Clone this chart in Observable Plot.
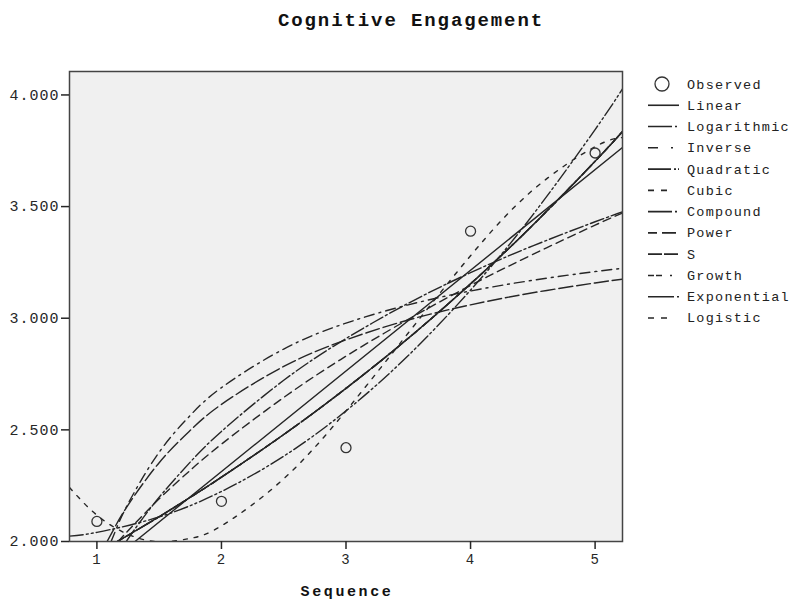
<!DOCTYPE html>
<html>
<head>
<meta charset="utf-8">
<script src="https://cdn.jsdelivr.net/npm/d3@7"></script>
<script src="https://cdn.jsdelivr.net/npm/@observablehq/plot@0.6"></script>
<style>
  html, body { margin: 0; padding: 0; background: #ffffff; }
  #chart { position: relative; width: 792px; height: 602px; }
</style>
</head>
<body>
<div id="chart"></div>
<script>
// ---------- Data ----------
const chartTitle = "Cognitive Engagement";
const xLabel = "Sequence";
const xTicks = [1, 2, 3, 4, 5];
const yTicks = [2.0, 2.5, 3.0, 3.5, 4.0];

const observedX = [1, 2, 3, 4, 5];
const observedY = [2.09, 2.18, 2.42, 3.39, 3.74];

const legendNames = ["Observed", "Linear", "Logarithmic", "Inverse", "Quadratic", "Cubic",
  "Compound", "Power", "S", "Growth", "Exponential", "Logistic"];

const linearX = [1.306, 5.22];
const linearY = [2.0, 3.765];

const logarithmicX = [1.236, 1.3, 1.5, 1.75, 2, 2.5, 3, 3.5, 4, 4.5, 5, 5.22];
const logarithmicY = [2.0, 2.052, 2.198, 2.356, 2.493, 2.722, 2.909, 3.067, 3.204, 3.324, 3.432, 3.476];

const inverseX = [1.114, 1.15, 1.25, 1.5, 1.75, 2, 2.5, 3, 3.5, 4, 4.5, 5, 5.22];
const inverseY = [2.0, 2.049, 2.169, 2.400, 2.565, 2.689, 2.862, 2.978, 3.060, 3.122, 3.170, 3.209, 3.223];

const quadraticX = [0.78, 1, 1.5, 2, 2.5, 3, 3.5, 4, 4.5, 5, 5.22];
const quadraticY = [2.024, 2.041, 2.110, 2.224, 2.382, 2.585, 2.833, 3.126, 3.463, 3.845, 4.027];

const cubicX = [0.78, 1, 1.25, 1.5, 1.75, 2, 2.5, 3, 3.5, 4, 4.5, 5, 5.22];
const cubicY = [2.242, 2.118, 2.032, 1.999, 2.014, 2.070, 2.281, 2.585, 2.934, 3.280, 3.574, 3.768, 3.809];

const compoundX = [1.163, 1.25, 1.5, 1.75, 2, 2.5, 3, 3.5, 4, 4.5, 5, 5.22];
const compoundY = [2.0, 2.028, 2.111, 2.198, 2.288, 2.479, 2.686, 2.910, 3.154, 3.417, 3.703, 3.836];

const powerX = [1.172, 1.25, 1.5, 1.75, 2, 2.5, 3, 3.5, 4, 4.5, 5, 5.22];
const powerY = [2.0, 2.048, 2.191, 2.319, 2.436, 2.645, 2.830, 2.995, 3.147, 3.286, 3.417, 3.471];

const sCurveX = [1.082, 1.15, 1.25, 1.5, 1.75, 2, 2.5, 3, 3.5, 4, 4.5, 5, 5.22];
const sCurveY = [2.0, 2.070, 2.163, 2.353, 2.498, 2.614, 2.784, 2.903, 2.992, 3.060, 3.114, 3.158, 3.175];

// Growth, Exponential and Logistic coincide with Compound in the picture
const growthX = [1.163, 1.25, 1.5, 1.75, 2, 2.5, 3, 3.5, 4, 4.5, 5, 5.22];
const growthY = [2.0, 2.028, 2.111, 2.198, 2.288, 2.479, 2.686, 2.910, 3.154, 3.417, 3.703, 3.836];
const exponentialX = [1.163, 1.25, 1.5, 1.75, 2, 2.5, 3, 3.5, 4, 4.5, 5, 5.22];
const exponentialY = [2.0, 2.028, 2.111, 2.198, 2.288, 2.479, 2.686, 2.910, 3.154, 3.417, 3.703, 3.836];
const logisticX = [1.163, 1.25, 1.5, 1.75, 2, 2.5, 3, 3.5, 4, 4.5, 5, 5.22];
const logisticY = [2.0, 2.028, 2.111, 2.198, 2.288, 2.479, 2.686, 2.910, 3.154, 3.417, 3.703, 3.836];

// ---------- Build tables ----------
const zipXY = (xs, ys) => xs.map((x, i) => ({x, y: ys[i]}));
const observed = zipXY(observedX, observedY);

const curves = [
  {name: "Linear", data: zipXY(linearX, linearY)},
  {name: "Logarithmic", data: zipXY(logarithmicX, logarithmicY)},
  {name: "Inverse", data: zipXY(inverseX, inverseY)},
  {name: "Quadratic", data: zipXY(quadraticX, quadraticY)},
  {name: "Cubic", data: zipXY(cubicX, cubicY)},
  {name: "Compound", data: zipXY(compoundX, compoundY)},
  {name: "Power", data: zipXY(powerX, powerY)},
  {name: "S", data: zipXY(sCurveX, sCurveY)},
  {name: "Growth", data: zipXY(growthX, growthY)},
  {name: "Exponential", data: zipXY(exponentialX, exponentialY)},
  {name: "Logistic", data: zipXY(logisticX, logisticY)}
];

// ---------- Styles ----------
const ink = "#262626";
const plotDash = {
  Linear: null,
  Logarithmic: "14,3,2,3",
  Inverse: "10,5,2,5",
  Quadratic: "14,3,2,3,2,3",
  Cubic: "4,7",
  Compound: "14,3,2,3",
  Power: "8,5",
  S: "14,4",
  Growth: "7,3,7,3,2,3",
  Exponential: "20,3,2,3",
  Logistic: "5,6"
};
const legendDash = {
  Linear: null,
  Logarithmic: "24,3,2,10",
  Inverse: "10,13,2,10",
  Quadratic: "23,3,2,2,2,10",
  Cubic: "6,7,6,20",
  Compound: "24,3,2,10",
  Power: "9,5,14,10",
  S: "14,2,14,10",
  Growth: "6,2,6,8,2,10",
  Exponential: "26,3,2,10",
  Logistic: "6,7,6,20"
};
const mono = "'Liberation Mono', 'DejaVu Sans Mono', monospace";

const plot = Plot.plot({
  width: 792,
  height: 602,
  marginLeft: 69,
  marginRight: 170,
  marginTop: 71,
  marginBottom: 61,
  x: {domain: [0.78, 5.22]},
  y: {domain: [2.0, 4.105]},
  style: {fontFamily: mono, fontSize: "15px", color: ink, background: "#ffffff", letterSpacing: "1px"},
  marks: [
    Plot.frame({fill: "#f0f0f0", stroke: null}),
    ...curves.map(c => Plot.line(c.data, {
      x: "x", y: "y", curve: "natural", clip: true,
      stroke: ink, strokeWidth: 1.4,
      strokeDasharray: plotDash[c.name]
    })),
    Plot.dot(observed, {x: "x", y: "y", r: 5, stroke: "#333", strokeWidth: 1.3, fill: "none"}),
    Plot.frame({stroke: "#444", strokeWidth: 1.5}),
    Plot.axisX({ticks: xTicks, tickSize: 8, tickPadding: 5, tickFormat: d => String(d), label: null, strokeWidth: 1.5, fontSize: 14}),
    Plot.axisY({ticks: yTicks, tickSize: 8, tickPadding: 2, tickFormat: d3.format(".3f"), label: null, strokeWidth: 1.5})
  ]
});

document.getElementById("chart").appendChild(plot);

// ---------- Title, axis label and legend (added into the same SVG) ----------
const svg = d3.select(plot);

svg.append("text")
  .attr("x", 411).attr("y", 26)
  .attr("text-anchor", "middle")
  .style("font-family", mono).style("font-weight", "bold")
  .style("font-size", "19px").style("letter-spacing", "1.9px")
  .attr("fill", "#111")
  .text(chartTitle);

svg.append("text")
  .attr("x", 347).attr("y", 596)
  .attr("text-anchor", "middle")
  .style("font-family", mono).style("font-weight", "bold")
  .style("font-size", "15px").style("letter-spacing", "2.6px")
  .attr("fill", "#111")
  .text(xLabel);

const legend = svg.append("g").attr("text-anchor", "start");
const rowY0 = 84, rowStep = 21.27;
legendNames.forEach((name, i) => {
  const cy = rowY0 + i * rowStep;
  if (name === "Observed") {
    legend.append("circle").attr("cx", 662).attr("cy", cy).attr("r", 7)
      .attr("fill", "none").attr("stroke", "#333").attr("stroke-width", 1.3);
  } else {
    const l = legend.append("line")
      .attr("x1", 648).attr("x2", 679).attr("y1", cy).attr("y2", cy)
      .attr("stroke", ink).attr("stroke-width", 1.6);
    if (legendDash[name]) l.attr("stroke-dasharray", legendDash[name]);
  }
  legend.append("text")
    .attr("x", 687).attr("y", cy + 4.5)
    .attr("text-anchor", "start")
    .style("text-anchor", "start")
    .style("font-family", mono).style("font-size", "13.5px").style("letter-spacing", "1.25px")
    .attr("fill", "#222")
    .text(name);
});
</script>
</body>
</html>
